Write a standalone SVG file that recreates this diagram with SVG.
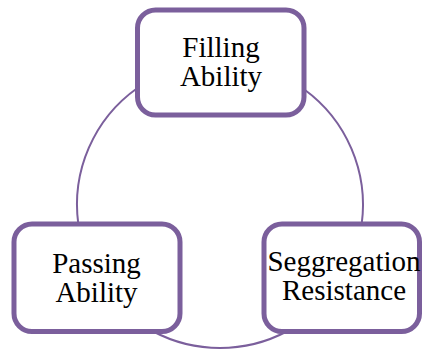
<svg xmlns="http://www.w3.org/2000/svg" width="422" height="350" viewBox="0 0 422 350">
  <style>
    .link { fill: none; stroke: #7B5F9C; stroke-width: 2; }
    .box { fill: #FFFFFF; stroke: #7B5F9C; stroke-width: 5; }
    .label { font-family: "Liberation Serif", "Times New Roman", serif; font-size: 29px; fill: #000000; text-anchor: middle; }
  </style>
  <rect width="422" height="350" fill="#FFFFFF"/>

  <!-- cycle arcs, all on one circle centred at (220,205), r=143 -->
  <g id="connectors">
    <path class="link" d="M 137.5 88 A 143 143 0 0 0 78.3 224"/>
    <path class="link" d="M 153.3 331.5 A 143 143 0 0 0 286.7 331.5"/>
    <path class="link" d="M 361.7 224 A 143 143 0 0 0 304 89.3"/>
  </g>

  <g id="filling-ability">
    <rect class="box" x="137.5" y="10" width="166.5" height="105" rx="18" ry="18"/>
    <text class="label" x="221" y="57">Filling</text>
    <text class="label" x="221" y="86">Ability</text>
  </g>

  <g id="passing-ability">
    <rect class="box" x="14" y="224" width="166" height="107.5" rx="18" ry="18"/>
    <text class="label" x="96.5" y="272.5">Passing</text>
    <text class="label" x="96.5" y="301.5">Ability</text>
  </g>

  <g id="segregation-resistance">
    <rect class="box" x="264" y="224" width="155.5" height="107.5" rx="18" ry="18"/>
    <text class="label" x="344" y="271">Seggregation</text>
    <text class="label" x="344" y="300">Resistance</text>
  </g>
</svg>
